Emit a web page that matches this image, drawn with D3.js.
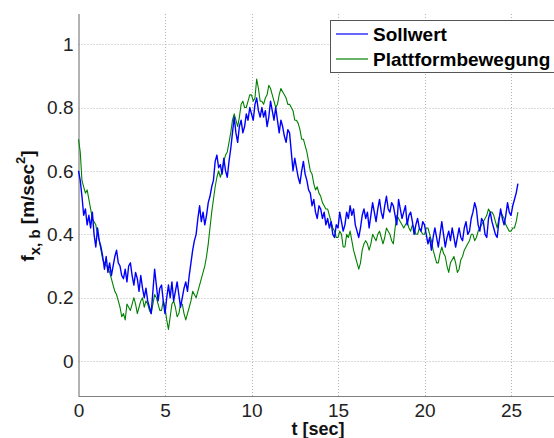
<!DOCTYPE html>
<html>
<head>
<meta charset="utf-8">
<script src="https://cdn.jsdelivr.net/npm/d3@7"></script>
<style>
  body { margin: 0; background: #fff; }
  svg { display: block; font-family: Arial, "Liberation Sans", sans-serif; }
</style>
</head>
<body>
<svg id="chart" width="554" height="438"></svg>
<script>
// sampling interval of the recorded signals [sec]
const sampleStep = 0.1;

const sollwert = [
  0.60, 0.57, 0.52, 0.46, 0.48, 0.43, 0.46, 0.42, 0.47, 0.40,
  0.36, 0.42, 0.38, 0.36, 0.33, 0.29, 0.33, 0.28, 0.31, 0.27,
  0.30, 0.33, 0.35, 0.31, 0.30, 0.27, 0.26, 0.29, 0.25, 0.30,
  0.31, 0.27, 0.24, 0.28, 0.26, 0.22, 0.27, 0.23, 0.20, 0.23,
  0.19, 0.17, 0.15, 0.22, 0.29, 0.24, 0.19, 0.23, 0.24, 0.19,
  0.15, 0.20, 0.24, 0.20, 0.25, 0.19, 0.22, 0.25, 0.21, 0.17,
  0.20, 0.23, 0.25, 0.22, 0.27, 0.31, 0.35, 0.38, 0.40, 0.45,
  0.49, 0.44, 0.47, 0.43, 0.46, 0.50, 0.52, 0.55, 0.57, 0.63,
  0.65, 0.61, 0.62, 0.59, 0.64, 0.60, 0.58, 0.63, 0.67, 0.72,
  0.77, 0.72, 0.69, 0.74, 0.76, 0.72, 0.74, 0.78, 0.76, 0.80,
  0.78, 0.76, 0.81, 0.83, 0.79, 0.77, 0.80, 0.77, 0.79, 0.74,
  0.77, 0.82, 0.79, 0.76, 0.80, 0.76, 0.72, 0.76, 0.74, 0.71,
  0.69, 0.73, 0.72, 0.66, 0.60, 0.64, 0.61, 0.58, 0.56, 0.60,
  0.63, 0.59, 0.57, 0.54, 0.53, 0.49, 0.51, 0.47, 0.45, 0.49,
  0.48, 0.45, 0.47, 0.43, 0.45, 0.42, 0.44, 0.40, 0.39, 0.43,
  0.42, 0.47, 0.44, 0.41, 0.43, 0.47, 0.45, 0.49, 0.46, 0.48,
  0.43, 0.41, 0.39, 0.42, 0.46, 0.48, 0.45, 0.47, 0.42, 0.46,
  0.50, 0.47, 0.44, 0.48, 0.51, 0.47, 0.45, 0.49, 0.52, 0.48,
  0.47, 0.50, 0.49, 0.46, 0.43, 0.51, 0.48, 0.45, 0.47, 0.49,
  0.43, 0.46, 0.47, 0.44, 0.40, 0.43, 0.45, 0.42, 0.41, 0.44,
  0.43, 0.40, 0.37, 0.39, 0.35, 0.39, 0.42, 0.39, 0.36, 0.40,
  0.44, 0.40, 0.36, 0.39, 0.41, 0.38, 0.42, 0.39, 0.36, 0.39,
  0.42, 0.39, 0.38, 0.42, 0.44, 0.40, 0.41, 0.45, 0.47, 0.50,
  0.48, 0.43, 0.41, 0.45, 0.44, 0.40, 0.39, 0.45, 0.47, 0.44,
  0.42, 0.40, 0.39, 0.44, 0.48, 0.45, 0.43, 0.46, 0.50, 0.47,
  0.46, 0.49, 0.51, 0.53, 0.56
];

const plattform = [
  0.70, 0.66, 0.57, 0.55, 0.53, 0.54, 0.51, 0.48, 0.45, 0.44,
  0.43, 0.40, 0.38, 0.35, 0.32, 0.31, 0.30, 0.30, 0.28, 0.26,
  0.24, 0.22, 0.21, 0.19, 0.17, 0.14, 0.15, 0.13, 0.18, 0.17,
  0.16, 0.18, 0.20, 0.18, 0.15, 0.17, 0.19, 0.20, 0.17, 0.19,
  0.18, 0.16, 0.15, 0.18, 0.21, 0.20, 0.18, 0.16, 0.16, 0.19,
  0.17, 0.13, 0.10, 0.14, 0.18, 0.19, 0.17, 0.14, 0.15, 0.18,
  0.18, 0.15, 0.13, 0.15, 0.17, 0.19, 0.22, 0.21, 0.20, 0.22,
  0.24, 0.26, 0.28, 0.30, 0.33, 0.37, 0.42, 0.47, 0.51, 0.55,
  0.58, 0.60, 0.58, 0.60, 0.63, 0.65, 0.66, 0.69, 0.72, 0.76,
  0.78, 0.76, 0.74, 0.77, 0.81, 0.82, 0.80, 0.80, 0.82, 0.84,
  0.84, 0.82, 0.83, 0.89, 0.86, 0.82, 0.82, 0.81, 0.83, 0.84,
  0.87, 0.86, 0.84, 0.82, 0.80, 0.81, 0.84, 0.86, 0.85, 0.84,
  0.83, 0.81, 0.81, 0.80, 0.79, 0.76, 0.76, 0.75, 0.73, 0.70,
  0.70, 0.68, 0.66, 0.63, 0.60, 0.59, 0.56, 0.54, 0.55, 0.53,
  0.52, 0.50, 0.49, 0.48, 0.48, 0.46, 0.44, 0.42, 0.41, 0.39,
  0.39, 0.41, 0.40, 0.36, 0.36, 0.40, 0.39, 0.41, 0.38, 0.35,
  0.33, 0.31, 0.29, 0.31, 0.35, 0.37, 0.38, 0.37, 0.35, 0.37,
  0.40, 0.39, 0.38, 0.40, 0.41, 0.39, 0.37, 0.39, 0.42, 0.41,
  0.40, 0.38, 0.37, 0.42, 0.46, 0.45, 0.44, 0.43, 0.42, 0.43,
  0.44, 0.42, 0.41, 0.43, 0.42, 0.40, 0.40, 0.42, 0.41, 0.40,
  0.40, 0.42, 0.42, 0.40, 0.38, 0.35, 0.33, 0.31, 0.31, 0.34,
  0.36, 0.34, 0.33, 0.30, 0.28, 0.31, 0.32, 0.33, 0.31, 0.28,
  0.29, 0.32, 0.33, 0.35, 0.36, 0.37, 0.38, 0.40, 0.40, 0.38,
  0.39, 0.41, 0.42, 0.43, 0.44, 0.45, 0.46, 0.48, 0.47, 0.47,
  0.46, 0.44, 0.42, 0.45, 0.47, 0.46, 0.45, 0.43, 0.42, 0.41,
  0.41, 0.42, 0.42, 0.44, 0.47
];

const seriesNames = ['Sollwert', 'Plattformbewegung'];
const seriesColors = ['#0000ff', '#008000'];
const xTicks = [0, 5, 10, 15, 20, 25];
const yTicks = [0, 0.2, 0.4, 0.6, 0.8, 1];

const svg = d3.select('#chart');

// plot box (right part is cut off by the picture frame)
const plotLeft = 78.5, plotRight = 597.5, plotTop = 14, plotBottom = 396;

const x = d3.scaleLinear().domain([0, 30]).range([plotLeft, plotRight]);
const y = d3.scaleLinear().domain([-0.11, 1.095]).range([plotBottom, plotTop]);

// grid
const grid = svg.append('g')
  .attr('stroke', '#b4b4b4')
  .attr('stroke-width', 1)
  .attr('stroke-dasharray', '1,2');

grid.selectAll('.vgrid')
  .data(xTicks.filter((d) => d > 0))
  .enter()
  .append('line')
  .attr('x1', (d) => Math.round(x(d)) + 0.5)
  .attr('x2', (d) => Math.round(x(d)) + 0.5)
  .attr('y1', plotTop)
  .attr('y2', plotBottom);

grid.selectAll('.hgrid')
  .data(yTicks)
  .enter()
  .append('line')
  .attr('x1', plotLeft)
  .attr('x2', 554)
  .attr('y1', (d) => Math.round(y(d)) + 0.5)
  .attr('y2', (d) => Math.round(y(d)) + 0.5);

//X Axis
const xAxis = svg.append('g')
  .attr('transform', `translate(0,${plotBottom})`)
  .call(d3.axisBottom(x).tickValues(xTicks).tickSize(0).tickPadding(8).tickFormat(d3.format('d')));

//Y Axis
const yAxis = svg.append('g')
  .attr('transform', `translate(${plotLeft},0)`)
  .call(d3.axisLeft(y).tickValues(yTicks).tickSize(0).tickPadding(5).tickFormat((d) => (d === 0 || d === 1 ? d3.format('d')(d) : d3.format('.1f')(d))));

[xAxis, yAxis].forEach((a) => {
  a.select('.domain').attr('stroke', '#808080').attr('stroke-width', 1.2);
  a.selectAll('text')
    .attr('fill', '#222')
    .style('font-size', '19px')
    .style('font-family', 'Arial, "Liberation Sans", sans-serif');
});
yAxis.select('.domain').attr('d', `M0.5,${plotTop}V${plotBottom}`);
xAxis.select('.domain').attr('d', `M${plotLeft},0.5H${plotRight}`);

// lines
const line = d3.line()
  .x((d, i) => x(i * sampleStep))
  .y((d) => y(d));

svg.append('path')
  .datum(plattform)
  .attr('fill', 'none')
  .attr('stroke', seriesColors[1])
  .attr('stroke-width', 1.1)
  .attr('stroke-linejoin', 'round')
  .attr('d', line);

svg.append('path')
  .datum(sollwert)
  .attr('fill', 'none')
  .attr('stroke', seriesColors[0])
  .attr('stroke-width', 1.4)
  .attr('stroke-linejoin', 'round')
  .attr('d', line);

// axis labels
svg.append('text')
  .attr('x', 318)
  .attr('y', 435)
  .attr('text-anchor', 'middle')
  .attr('font-weight', 'bold')
  .attr('font-size', 18)
  .attr('fill', '#111')
  .text('t [sec]');

const yl = svg.append('text')
  .attr('transform', 'translate(34,206) rotate(-90)')
  .attr('text-anchor', 'middle')
  .attr('font-weight', 'bold')
  .attr('font-size', 19)
  .attr('fill', '#111');
yl.append('tspan').text('f');
yl.append('tspan').attr('font-size', 15).attr('dy', 6).text('x, b');
yl.append('tspan').attr('dy', -6).text(' [m/sec');
yl.append('tspan').attr('font-size', 13).attr('dy', -9).text('2');
yl.append('tspan').attr('dy', 9).text(']');

// legend
const legend = svg.append('g');
legend.append('rect')
  .attr('x', 330.5)
  .attr('y', 20.5)
  .attr('width', 240)
  .attr('height', 52)
  .attr('fill', '#fff')
  .attr('stroke', '#555')
  .attr('stroke-width', 1);

const items = legend.selectAll('.item')
  .data(seriesNames)
  .enter()
  .append('g')
  .attr('transform', (d, i) => `translate(0,${34 + i * 25})`);

items.append('line')
  .attr('x1', 336)
  .attr('x2', 368)
  .attr('stroke', (d, i) => seriesColors[i])
  .attr('stroke-width', 1.2);

items.append('text')
  .attr('x', 373)
  .attr('y', 7)
  .attr('font-weight', 'bold')
  .attr('font-size', 19)
  .attr('fill', '#000')
  .text((d) => d);
</script>
</body>
</html>
